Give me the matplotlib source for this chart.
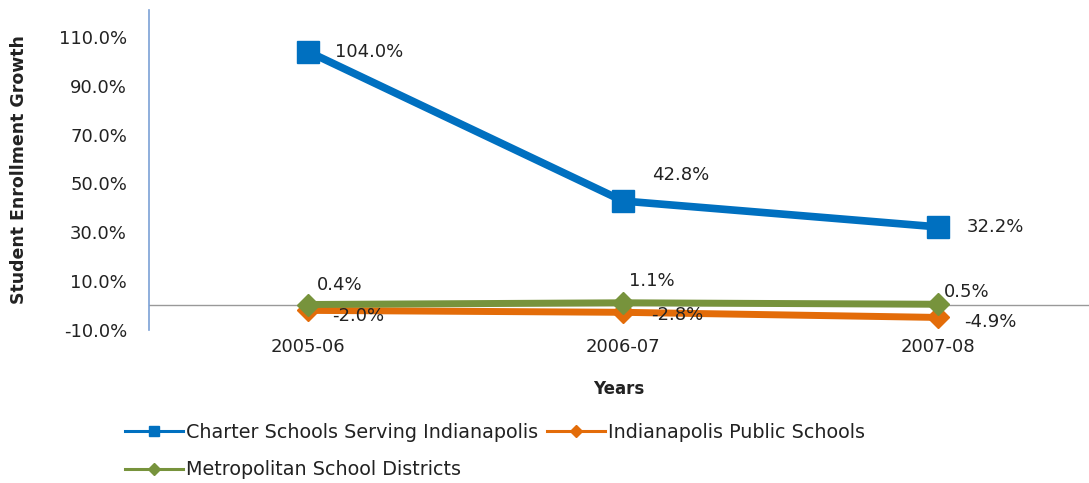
import matplotlib.pyplot as plt
from matplotlib.lines import Line2D

plt.rcParams['font.family'] = ['DejaVu Sans']

years = ['2005-06', '2006-07', '2007-08']
charter = [104.0, 42.8, 32.2]
ips = [-2.0, -2.8, -4.9]
metro = [0.4, 1.1, 0.5]

blue = '#0070C0'
orange = '#E36C09'
green = '#77933C'
txt = '#222222'

fig = plt.figure(figsize=(10.89, 4.83), dpi=100)
ax = fig.add_axes([0.137, 0.317, 0.863, 0.662])

x = list(range(len(years)))
ax.plot(x, charter, color=blue, lw=5.5, marker='s', ms=16)
ax.plot(x, ips, color=orange, lw=5, marker='D', ms=11)
ax.plot(x, metro, color=green, lw=5, marker='D', ms=11)

# data labels (offsets in points)
offs_charter = [(19, 0), (21, 19), (21, 0)]
offs_ips = [(17, -4), (20, -2), (19, -3)]
offs_metro = [(6, 14), (4, 16), (4, 9)]
for series, offs in ((charter, offs_charter), (ips, offs_ips), (metro, offs_metro)):
    for xi, v, (dx, dy) in zip(x, series, offs):
        ax.annotate(f'{v:.1f}%', (xi, v), xytext=(dx, dy), textcoords='offset points',
                    ha='left', va='center', fontsize=13, color=txt)

ax.axhline(0, color='#999999', lw=1, zorder=0)
ax.set_xlim(-0.505, 2.48)
ax.set_ylim(-10, 121)
yt = [-10, 10, 30, 50, 70, 90, 110]
ax.set_yticks(yt)
ax.set_yticklabels([f'{t:.1f}%' for t in yt], fontsize=13)
ax.set_xticks(x)
ax.set_xticklabels(years, fontsize=13)
ax.tick_params(axis='both', length=0, colors=txt)
ax.tick_params(axis='y', pad=16)
ax.tick_params(axis='x', pad=6)

for side in ('top', 'right', 'bottom'):
    ax.spines[side].set_visible(False)
ax.spines['left'].set_color('#7BA1D6')
ax.spines['left'].set_linewidth(1.2)

ax.set_ylabel('Student Enrollment Growth', fontsize=12.5, fontweight='bold',
              labelpad=22, color=txt)
ax.set_xlabel('Years', fontsize=12, fontweight='bold', labelpad=17, color=txt)

# legend: column-first fill, so order gives charter/ips on row 1, metro on row 2
handles = [
    Line2D([], [], color=blue, lw=2.2, marker='s', ms=7),
    Line2D([], [], color=green, lw=2.2, marker='D', ms=6),
    Line2D([], [], color=orange, lw=2.2, marker='D', ms=6),
]
labels = ['Charter Schools Serving Indianapolis', 'Metropolitan School Districts',
          'Indianapolis Public Schools']
fig.legend(handles, labels, loc='upper left', bbox_to_anchor=(0.108, 0.14), ncol=2,
           frameon=False, fontsize=13.8, handlelength=3.0, handletextpad=0.15,
           columnspacing=0.5, labelspacing=0.95, borderaxespad=0, labelcolor=txt)

fig.savefig('out.png', dpi=100)
